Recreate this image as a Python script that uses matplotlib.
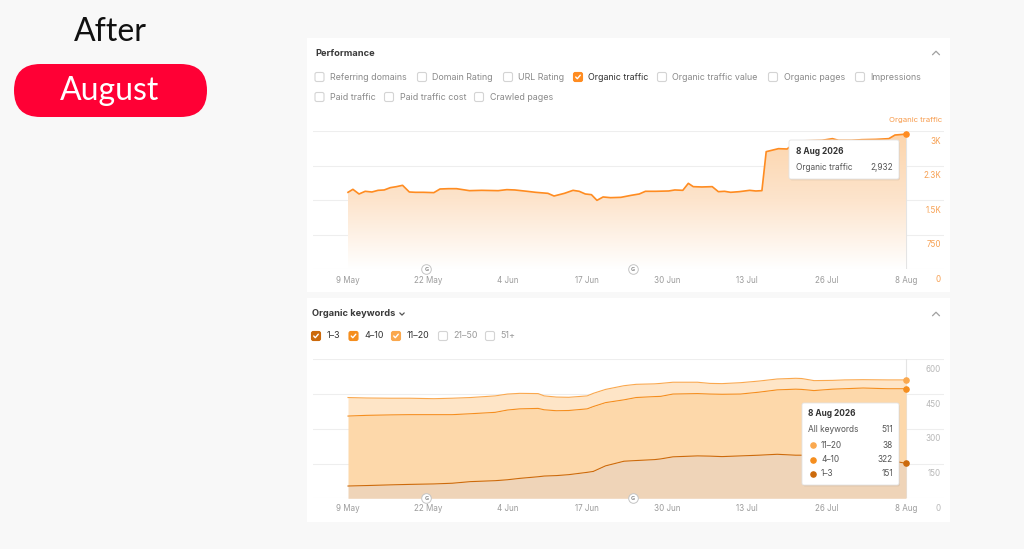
import numpy as np
import matplotlib
matplotlib.use("Agg")
import matplotlib.pyplot as plt
from matplotlib.patches import Rectangle, FancyBboxPatch
from matplotlib.colors import LinearSegmentedColormap
from matplotlib.transforms import offset_copy

# ---- data (day 0 = 9 May, day 91 = 8 Aug) ----
tick_days = [0, 13, 26, 39, 52, 65, 78, 91]
tick_labels = ["9 May", "22 May", "4 Jun", "17 Jun", "30 Jun", "13 Jul", "26 Jul", "8 Aug"]
google_updates = [12.8, 46.5]

top_days = [0, 0.8, 1.8, 2.8, 3.9, 4.9, 5.9, 6.9, 7.9, 8.9, 10, 11, 12.3, 14, 15, 16.4, 17.7,
            19.8, 21.8, 24.5, 25.9, 27.2, 29.2, 30.6, 32.6, 33.6, 35.3, 36.7, 37.7, 38.7,
            39.7, 40.6, 41.6, 42.8, 44.5, 46.2, 47.5, 48.5, 50.2, 52.3, 53.3, 54.6, 55.5,
            56.3, 57.7, 59.4, 60.4, 61.4, 62.4, 63.8, 65.5, 66.5, 67.5, 68.2, 70.2, 71.6,
            73.3, 75.3, 77.3, 79, 80, 82.1, 83.8, 86.1, 88.2, 89.2, 91]
traffic = [1670, 1735, 1634, 1692, 1677, 1713, 1721, 1771, 1793, 1822, 1677, 1670, 1670, 1663,
           1742, 1749, 1749, 1706, 1713, 1706, 1728, 1721, 1692, 1670, 1648, 1590, 1648, 1713,
           1692, 1634, 1619, 1496, 1569, 1554, 1561, 1605, 1634, 1692, 1692, 1699, 1721, 1713,
           1865, 1793, 1786, 1793, 1684, 1692, 1670, 1684, 1713, 1699, 1706, 2552, 2617, 2610,
           2783, 2790, 2798, 2834, 2798, 2798, 2812, 2819, 2834, 2913, 2932]
traffic_ticks = [0, 750, 1500, 2250, 3000]
traffic_tick_labels = ["0", "750", "1.5K", "2.3K", "3K"]

kw_days = [0, 3, 7, 10, 14, 17, 20, 24, 26, 28, 31, 32, 34, 36, 39, 40, 42, 45, 47, 50, 51,
           53, 57, 59, 61, 64, 67, 70, 73, 74, 76, 79, 81, 84, 88, 91]
kw_1_3 = [53, 55, 58, 60, 62, 65, 72, 76, 80, 86, 93, 96, 98, 102, 112, 116, 140, 160, 163,
          167, 170, 179, 183, 182, 180, 183, 186, 190, 186, 186, 185, 183, 180, 176, 165, 151]
kw_4_10 = [302, 303, 302, 301, 299, 296, 293, 295, 301, 300, 295, 286, 280, 277, 274, 280, 273,
           265, 272, 272, 270, 271, 269, 268, 269, 267, 272, 278, 285, 284, 280, 288, 293, 300,
           308, 322]
kw_11_20 = [80, 75, 72, 71, 69, 71, 70, 71, 69, 67, 64, 60, 59, 57, 56, 57, 57, 61, 57, 55, 56,
            51, 49, 46, 46, 49, 48, 47, 47, 47, 43, 38, 38, 36, 38, 38]
kw_ticks = [0, 150, 300, 450, 600]

perf_options = ["Referring domains", "Domain Rating", "URL Rating", "Organic traffic",
                "Organic traffic value", "Organic pages", "Impressions",
                "Paid traffic", "Paid traffic cost", "Crawled pages"]
perf_checked = "Organic traffic"
kw_options = ["1\u20133", "4\u201310", "11\u201320", "21\u201350", "51+"]

# ---- colours ----
ORANGE = "#FF8C21"
C13, C410, C1120 = "#CC6A0C", "#F58E1E", "#FAA84E"
F13, F410, F1120 = "#EFD4B8", "#FDD8AA", "#FEE5C7"
GRID = "#EEEEEE"
TXT = "#3A3A3A"
MUTED = "#9C9C9C"

W, H = 1024, 549
fig = plt.figure(figsize=(10.24, 5.49), dpi=100, facecolor="#F8F8F8")


def box(x0, y0, x1, y1):
    return [x0 / W, 1 - y1 / H, (x1 - x0) / W, (y1 - y0) / H]


bg = fig.add_axes([0, 0, 1, 1])
bg.set_xlim(0, W)
bg.set_ylim(H, 0)
bg.axis("off")
bg.set_zorder(0)

# panels
bg.add_patch(Rectangle((307, 38), 643, 254, fc="white", ec="none"))
bg.add_patch(Rectangle((307, 298), 643, 224, fc="white", ec="none"))

# left caption
bg.text(110, 32, "After", fontfamily="Lato", fontsize=23, ha="center", va="center", color="#111111")
bg.add_patch(FancyBboxPatch((14, 64), 193, 53, boxstyle="round,pad=0,rounding_size=26.5",
                            fc="#FF0035", ec="none"))
bg.text(110, 91, "August", fontfamily="Lato", fontsize=23, ha="center", va="center", color="white")

FONT = ["Inter", "DejaVu Sans"]


def checkbox(ax, cx, cy, checked, color):
    s = 9
    ax.add_patch(FancyBboxPatch((cx - s / 2, cy - s / 2), s, s,
                                boxstyle="round,pad=0,rounding_size=1.8",
                                fc=color if checked else "white",
                                ec=color if checked else "#D4D4D4", lw=0.8, zorder=3))
    if checked:
        ax.plot([cx - 2.3, cx - 0.7, cx + 2.3], [cy, cy + 1.7, cy - 1.8], color="white",
                lw=1.0, solid_capstyle="round", zorder=4)


def chevron(ax, cx, cy, up=True, size=3.5, color="#A0A0A0"):
    d = -size / 2 if up else size / 2
    ax.plot([cx - size, cx, cx + size], [cy - d, cy + d, cy - d], color=color, lw=0.9,
            solid_capstyle="round")


# --- performance header ---
bg.text(315, 53, "Performance", fontfamily=FONT, fontsize=6.7, fontweight="bold", color=TXT,
        va="center")
chevron(bg, 936, 53, up=True)
box_x = [319.5, 422, 508, 578, 662, 773, 860, 319.5, 389, 479]
box_y = [77] * 7 + [97] * 3
for name, bx, by in zip(perf_options, box_x, box_y):
    on = name == perf_checked
    checkbox(bg, bx, by, on, ORANGE)
    bg.text(bx + 10.5, by, name, fontfamily=FONT, fontsize=6.4, va="center",
            color="#333333" if on else "#8A8A8A")
bg.text(942, 120, "Organic traffic", fontfamily=FONT, fontsize=5.6, ha="right", va="center",
        color="#F79A4A")

# --- organic keywords header ---
bg.text(312, 314, "Organic keywords", fontfamily=FONT, fontsize=6.7, fontweight="bold",
        color=TXT, va="center")
chevron(bg, 402, 314, up=False, size=2.2, color="#555555")
chevron(bg, 936, 314, up=True)
kw_box_x = [316, 353.5, 396, 443, 490]
kw_colors = [C13, C410, C1120, None, None]
for name, bx, col in zip(kw_options, kw_box_x, kw_colors):
    checkbox(bg, bx, 336, col is not None, col if col else "#D4D4D4")
    bg.text(bx + 10.5, 336, name, fontfamily=FONT, fontsize=6.4, va="center",
            color="#333333" if col else "#9A9A9A")

# x span shared by both charts: 9 May at x=348px, 8 Aug at x=906px
px_day = (906 - 348) / 91.0
xlo = (313 - 348) / px_day
xhi = 91 + (944 - 906) / px_day


def setup(ax, ymax, yticks, ylabels, ycolor, tick_y_off):
    ax.set_xlim(xlo, xhi)
    ax.set_ylim(0, ymax)
    ax.axis("off")
    for v in yticks:
        ax.axhline(v, color=GRID, lw=0.8, zorder=0)
    ytr = offset_copy(ax.get_yaxis_transform(), fig=fig, x=-3, y=-10, units="dots")
    for v, lab in zip(yticks, ylabels):
        ax.text(1.0, v, lab, transform=ytr, ha="right", va="center", fontfamily=FONT,
                fontsize=5.8, color=ycolor)
    xtr = offset_copy(ax.get_xaxis_transform(), fig=fig, y=-tick_y_off, units="dots")
    for d, lab in zip(tick_days, tick_labels):
        ax.text(d, 0, lab, transform=xtr, ha="center", va="center", fontfamily=FONT,
                fontsize=5.8, color=MUTED)
    ax.axvline(91, color="#E4E4E4", lw=0.8, zorder=1)
    for g in google_updates:
        ax.scatter([g], [0], s=48, fc="white", ec="#C4C4C4", lw=0.7, zorder=6, clip_on=False)
        ax.text(g, 0, "G", ha="center", va="center", fontsize=3.6, color="#8E8E8E",
                fontweight="bold", zorder=7, clip_on=False)


# --- top chart: organic traffic ---
ax1 = fig.add_axes(box(313, 131, 944, 269.3))
setup(ax1, 3000, traffic_ticks, traffic_tick_labels, "#F7A052", 11)
poly = ax1.fill_between(top_days, traffic, 0, color="none")
cmap = LinearSegmentedColormap.from_list("peach", ["#FFFFFF", "#FDE4CC", "#FCD4AA"])
grad = np.linspace(0, 1, 256).reshape(-1, 1)
img = ax1.imshow(grad, extent=[0, 91, 0, 3000], aspect="auto", origin="lower", cmap=cmap,
                 zorder=1)
img.set_clip_path(poly.get_paths()[0], transform=ax1.transData)
ax1.set_xlim(xlo, xhi)
ax1.set_ylim(0, 3000)
ax1.plot(top_days, traffic, color=ORANGE, lw=1.2, zorder=3)
ax1.scatter([top_days[-1]], [traffic[-1]], s=14, color=ORANGE, zorder=5, clip_on=False)

# --- bottom chart: organic keywords (stacked) ---
ax2 = fig.add_axes(box(313, 359.3, 944, 498.3))
setup(ax2, 600, kw_ticks, [str(v) for v in kw_ticks], "#B8B8B8", 10)
lvl1 = np.array(kw_1_3)
lvl2 = lvl1 + np.array(kw_4_10)
lvl3 = lvl2 + np.array(kw_11_20)
ax2.fill_between(kw_days, 0, lvl1, color=F13, lw=0, zorder=1)
ax2.fill_between(kw_days, lvl1, lvl2, color=F410, lw=0, zorder=1)
ax2.fill_between(kw_days, lvl2, lvl3, color=F1120, lw=0, zorder=1)
for lvl, col in [(lvl3, C1120), (lvl2, C410), (lvl1, C13)]:
    ax2.plot(kw_days, lvl, color=col, lw=0.8, zorder=3)
    ax2.scatter([kw_days[-1]], [lvl[-1]], s=14, color=col, zorder=5, clip_on=False)

# --- tooltips (overlay) ---
ov = fig.add_axes([0, 0, 1, 1])
ov.set_xlim(0, W)
ov.set_ylim(H, 0)
ov.axis("off")
ov.set_zorder(10)
ov.patch.set_alpha(0)


def tooltip(x0, y0, x1, y1):
    ov.add_patch(FancyBboxPatch((x0 + 1, y0 + 1.5), x1 - x0, y1 - y0,
                                boxstyle="round,pad=0,rounding_size=2", fc="#000000",
                                alpha=0.06, ec="none"))
    ov.add_patch(FancyBboxPatch((x0, y0), x1 - x0, y1 - y0,
                                boxstyle="round,pad=0,rounding_size=2", fc="white",
                                ec="#E3E3E3", lw=0.6))


tooltip(789, 140, 899, 179)
ov.text(796, 152, "8 Aug 2026", fontfamily=FONT, fontsize=6.0, fontweight="bold", color="#333333",
        va="center")
ov.text(796, 167, "Organic traffic", fontfamily=FONT, fontsize=6.0, color="#555555", va="center")
ov.text(893, 167, f"{traffic[-1]:,}", fontfamily=FONT, fontsize=6.0, color="#555555",
        va="center", ha="right")

tooltip(802, 403, 899, 485)
ov.text(808, 414, "8 Aug 2026", fontfamily=FONT, fontsize=6.0, fontweight="bold", color="#333333",
        va="center")
ov.text(808, 430, "All keywords", fontfamily=FONT, fontsize=6.0, color="#555555", va="center")
ov.text(893, 430, str(int(lvl3[-1])), fontfamily=FONT, fontsize=6.0, color="#555555",
        va="center", ha="right")
rows = [(kw_options[2], kw_11_20[-1], C1120), (kw_options[1], kw_4_10[-1], C410),
        (kw_options[0], kw_1_3[-1], C13)]
for i, (lab, val, col) in enumerate(rows):
    yy = 445 + i * 14.5
    ov.scatter([813], [yy], s=14, color=col)
    ov.text(821, yy, lab, fontfamily=FONT, fontsize=6.0, color="#555555", va="center")
    ov.text(893, yy, str(val), fontfamily=FONT, fontsize=6.0, color="#555555", va="center",
            ha="right")

fig.savefig("out.png", dpi=100, facecolor=fig.get_facecolor())
